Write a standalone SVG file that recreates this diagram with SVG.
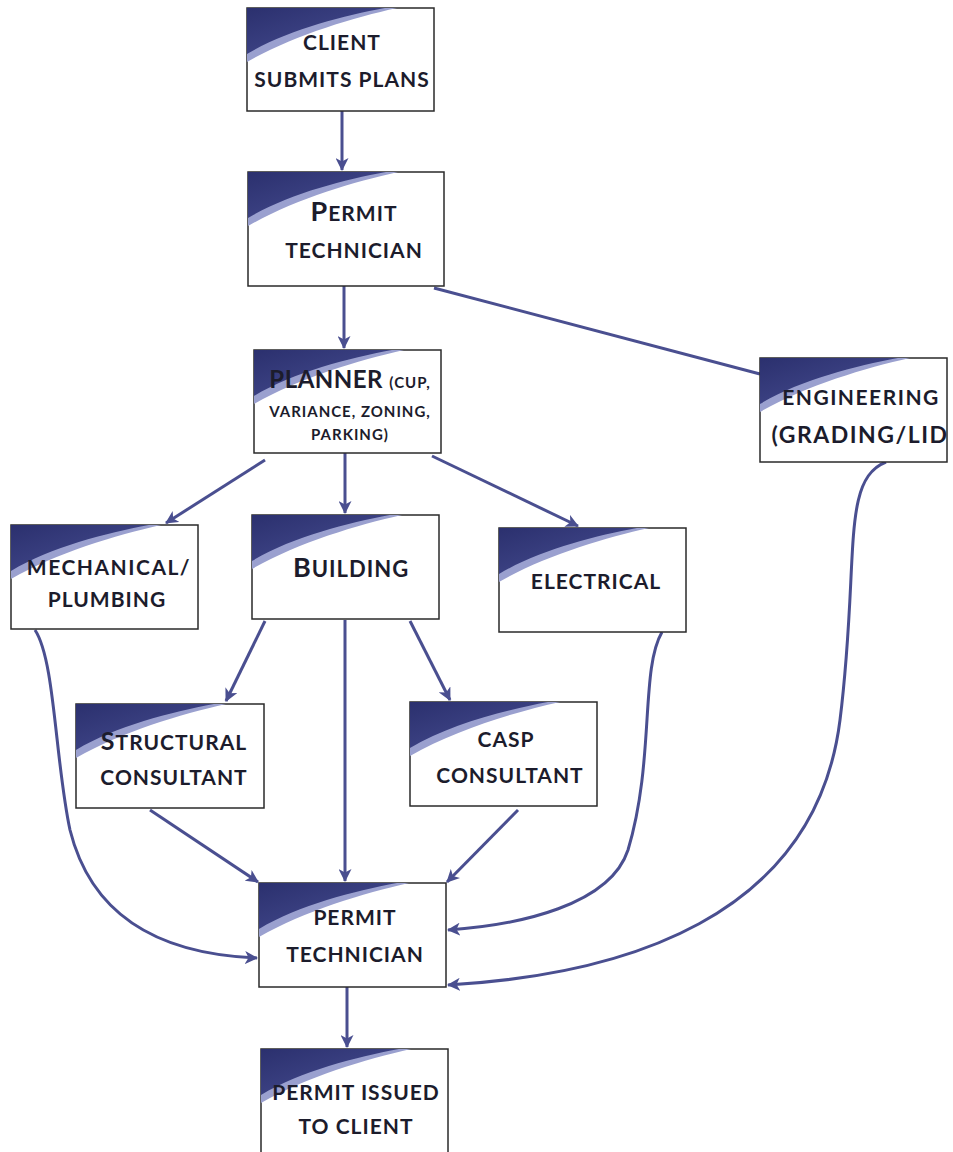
<svg xmlns="http://www.w3.org/2000/svg" width="953" height="1152" viewBox="0 0 953 1152">
<style>
.box{fill:#fff;stroke:#2a2a2a;stroke-width:1.5}
.t{font-family:Lato,"Open Sans",sans-serif;font-weight:bold;fill:#1c1c2c;text-anchor:middle;font-size:21px;letter-spacing:1px}
.big{font-size:27px}
.xs{font-size:15px;letter-spacing:1px}
.c{fill:none;stroke:#4a4f90;stroke-width:3}
</style>
<defs>
<linearGradient id="g1" x1="0" y1="0" x2="1" y2="1">
<stop offset="0" stop-color="#2b306e"/>
<stop offset="0.6" stop-color="#3d4385"/>
<stop offset="1" stop-color="#6a70ad"/>
</linearGradient>
<g id="corner">
<path d="M0,0 H150 C105,10 45,28 0,54 Z" fill="#9aa0cf"/>
<path d="M0,0 H138 C95,8 40,22 0,46 Z" fill="url(#g1)"/>
</g>
<marker id="ah" markerWidth="15" markerHeight="13" refX="12" refY="6.5" orient="auto" markerUnits="userSpaceOnUse">
<path d="M0,0 L13,6.5 L0,13 L3.5,6.5 Z" fill="#4a4f90"/>
</marker>
</defs>

<g id="connectors">
<line class="c" x1="342" y1="111" x2="342" y2="170" marker-end="url(#ah)"/>
<line class="c" x1="344" y1="286" x2="344" y2="348" marker-end="url(#ah)"/>
<line class="c" x1="434" y1="288" x2="760" y2="374"/>
<line class="c" x1="265" y1="460" x2="166" y2="523" marker-end="url(#ah)"/>
<line class="c" x1="345" y1="453" x2="345" y2="513" marker-end="url(#ah)"/>
<line class="c" x1="432" y1="456" x2="578" y2="526" marker-end="url(#ah)"/>
<line class="c" x1="265" y1="621" x2="226" y2="701" marker-end="url(#ah)"/>
<line class="c" x1="410" y1="621" x2="450" y2="700" marker-end="url(#ah)"/>
<line class="c" x1="345" y1="620" x2="345" y2="881" marker-end="url(#ah)"/>
<line class="c" x1="150" y1="810" x2="258" y2="882" marker-end="url(#ah)"/>
<line class="c" x1="518" y1="810" x2="447" y2="882" marker-end="url(#ah)"/>
<path class="c" d="M35,630 C55,660 55,760 70,830 C95,930 180,955 257,958" marker-end="url(#ah)"/>
<path class="c" d="M662,632 C640,670 655,760 628,850 C610,905 520,925 448,930" marker-end="url(#ah)"/>
<path class="c" d="M886,462 C840,480 860,560 840,720 C815,920 620,975 448,985" marker-end="url(#ah)"/>
<line class="c" x1="347" y1="987" x2="347" y2="1047" marker-end="url(#ah)"/>
</g>

<g id="n1">
<rect class="box" x="247" y="8" width="187" height="103"/>
<use href="#corner" x="247" y="8"/>
<text class="t" x="342" y="50">CLIENT</text>
<text class="t" x="342" y="87">SUBMITS PLANS</text>
</g>

<g id="n2">
<rect class="box" x="248" y="172" width="196" height="114"/>
<use href="#corner" x="248" y="172"/>
<text class="t" x="354" y="221"><tspan class="big">P</tspan>ERMIT</text>
<text class="t" x="354" y="258">TECHNICIAN</text>
</g>

<g id="n3">
<rect class="box" x="254" y="350" width="187" height="103"/>
<use href="#corner" x="254" y="350"/>
<text class="t" x="350" y="388" style="font-size:24px;letter-spacing:0.5px">PLANNER <tspan class="xs">(CUP,</tspan></text>
<text class="t xs" x="350" y="417">VARIANCE, ZONING,</text>
<text class="t xs" x="350" y="440">PARKING)</text>
</g>

<g id="n4">
<rect class="box" x="760" y="358" width="187" height="104"/>
<use href="#corner" x="760" y="358"/>
<text class="t" x="861" y="405" style="letter-spacing:1.5px">ENGINEERING</text>
<text class="t" x="860" y="443" style="font-size:23px;letter-spacing:1.5px">(GRADING/LID</text>
</g>

<g id="n5">
<rect class="box" x="11" y="525" width="187" height="104"/>
<use href="#corner" x="11" y="525"/>
<text class="t" x="109" y="575" style="letter-spacing:1.5px">MECHANICAL/</text>
<text class="t" x="107" y="607">PLUMBING</text>
</g>

<g id="n6">
<rect class="box" x="252" y="515" width="187" height="104"/>
<use href="#corner" x="252" y="515"/>
<text class="t" x="351" y="577" style="font-size:22px"><tspan class="big">B</tspan>UILDING</text>
</g>

<g id="n7">
<rect class="box" x="499" y="528" width="187" height="104"/>
<use href="#corner" x="499" y="528"/>
<text class="t" x="596" y="589">ELECTRICAL</text>
</g>

<g id="n8">
<rect class="box" x="76" y="704" width="188" height="104"/>
<use href="#corner" x="76" y="704"/>
<text class="t" x="174" y="750"><tspan style="font-size:25px">S</tspan>TRUCTURAL</text>
<text class="t" x="174" y="785">CONSULTANT</text>
</g>

<g id="n9">
<rect class="box" x="410" y="702" width="187" height="104"/>
<use href="#corner" x="410" y="702"/>
<text class="t" x="506" y="747">CASP</text>
<text class="t" x="510" y="783">CONSULTANT</text>
</g>

<g id="n10">
<rect class="box" x="259" y="883" width="187" height="104"/>
<use href="#corner" x="259" y="883"/>
<text class="t" x="355" y="925">PERMIT</text>
<text class="t" x="355" y="962">TECHNICIAN</text>
</g>

<g id="n11">
<rect class="box" x="261" y="1049" width="187" height="105"/>
<use href="#corner" x="261" y="1049"/>
<text class="t" x="356" y="1100">PERMIT ISSUED</text>
<text class="t" x="356" y="1134">TO CLIENT</text>
</g>
</svg>
